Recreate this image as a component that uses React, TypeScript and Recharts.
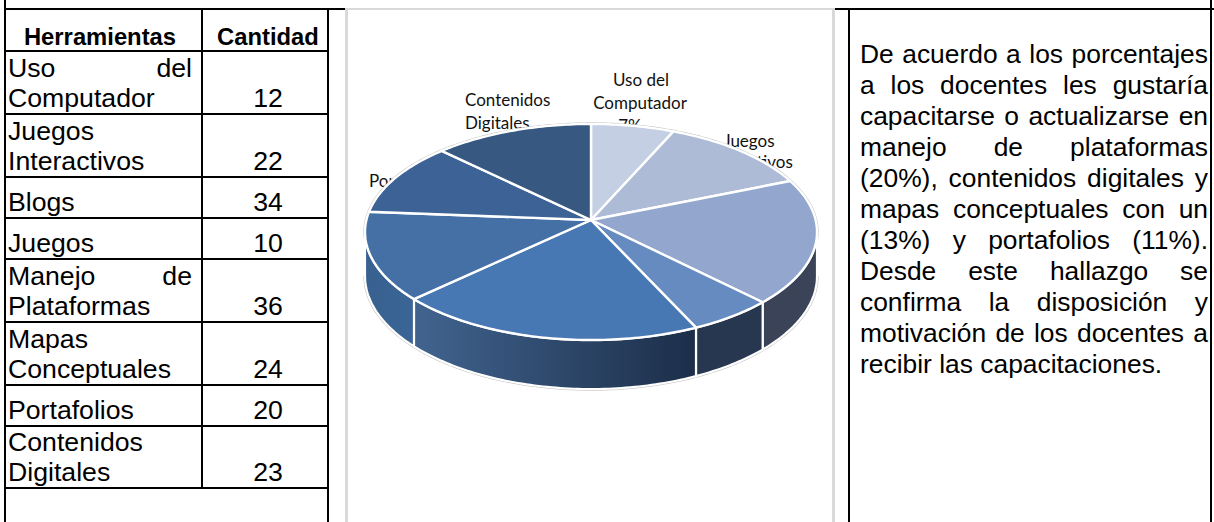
import React from "react";
import { PieChart, Pie } from "recharts";

const tools = [
  "Uso del Computador",
  "Juegos Interactivos",
  "Blogs",
  "Juegos",
  "Manejo de Plataformas",
  "Mapas Conceptuales",
  "Portafolios",
  "Contenidos Digitales",
];
const amounts = [12, 22, 34, 10, 36, 24, 20, 23];
const chartData = tools.map((name, i) => ({ name, value: amounts[i] }));

const topColors = ["#C5CFE3", "#ADBBD7", "#92A6CE", "#658BC0", "#4878B3", "#4470A6", "#3C6296", "#365881"];
// side wall colours run left to right across each visible slice
const wallColors = [
  ["#000", "#000"],
  ["#000", "#000"],
  ["#3B4358", "#3B4358"],
  ["#27374F", "#27374F"],
  ["#41648F", "#1C2E49"],
  ["#38618F", "#3A6596"],
  ["#000", "#000"],
  ["#000", "#000"],
];

const tableRowLines = [51, 114, 177, 218, 259, 322, 385, 426, 488];

const commentary =
  "De acuerdo a los porcentajes a los docentes les gustaría capacitarse o actualizarse en manejo de plataformas (20%), contenidos digitales y mapas conceptuales con un (13%) y portafolios (11%). Desde este hallazgo se confirma la disposición y motivación de los docentes a recibir las capacitaciones.";

// tilted disc: ellipse radii and perspective strength
const RX = 224.6;
const RY = 106.7;
const PERSPECTIVE = 0.111;
const DEPTH = 43.6;
const RIM_FROM = -6.4; // recharts degrees where the wall starts to show
const RIM_TO = -173.6;

const rad = (deg: number) => (deg * Math.PI) / 180;

function project(cx: number, cy: number, angle: number, depth = 0) {
  const u = Math.cos(rad(angle));
  const v = Math.sin(rad(angle));
  const w = 1 + PERSPECTIVE * v;
  return [cx + (RX * u) / w, cy - (RY * v) / w + depth / w];
}

function arcPoints(cx: number, cy: number, from: number, to: number, depth = 0) {
  const steps = Math.max(2, Math.ceil(Math.abs(to - from)));
  const pts: string[] = [];
  for (let i = 0; i <= steps; i++) {
    const [x, y] = project(cx, cy, from + ((to - from) * i) / steps, depth);
    pts.push(`${x.toFixed(2)} ${y.toFixed(2)}`);
  }
  return pts;
}

function TopSlice(props: any) {
  const { cx, cy, startAngle, endAngle, index } = props;
  const d = `M${cx} ${cy} L${arcPoints(cx, cy, startAngle, endAngle).join(" L")} Z`;
  return <path d={d} fill={topColors[index]} stroke="#fff" strokeWidth={2.4} strokeLinejoin="round" />;
}

function WallSlice(props: any) {
  const { cx, cy, startAngle, endAngle, index } = props;
  const from = Math.min(startAngle, RIM_FROM);
  const to = Math.max(endAngle, RIM_TO);
  if (from <= to) return null;
  const upper = arcPoints(cx, cy, from, to);
  const lower = arcPoints(cx, cy, to, from, DEPTH);
  const id = `wall-${index}`;
  return (
    <g>
      <defs>
        <linearGradient id={id}>
          <stop offset="0" stopColor={wallColors[index][0]} />
          <stop offset="1" stopColor={wallColors[index][1]} />
        </linearGradient>
      </defs>
      <path d={`M${upper.join(" L")} L${lower.join(" L")} Z`} fill={`url(#${id})`} stroke="#fff" strokeWidth={2.2} />
    </g>
  );
}

// thin grey edge around the disc
function HaloSlice(props: any) {
  const { cx, cy, startAngle, endAngle } = props;
  const from = Math.min(startAngle, RIM_FROM);
  const to = Math.max(endAngle, RIM_TO);
  return (
    <g fill="none" stroke="#BDBDBD" strokeWidth={3.2}>
      <path d={`M${arcPoints(cx, cy, startAngle, endAngle).join(" L")}`} />
      {from > to && <path d={`M${arcPoints(cx, cy, from, to, DEPTH).join(" L")}`} />}
    </g>
  );
}

const labelFont = { fontFamily: "Lato", fontSize: 17, fill: "#111" };

// only these labels stick out from behind the disc
function sliceLabel(props: any) {
  const { index, percent } = props;
  const pct = `${Math.round(percent * 100)}%`;
  if (index === 0) {
    return (
      <text {...labelFont} textAnchor="middle" key={index}>
        <tspan x={641} y={86}>Uso del</tspan>
        <tspan x={640} y={109}>Computador</tspan>
        <tspan x={630} y={132}>{pct}</tspan>
      </text>
    );
  }
  if (index === 1) {
    return (
      <text {...labelFont} textAnchor="middle" key={index}>
        <tspan x={749} y={147}>Juegos</tspan>
        <tspan x={749} y={168}>Interactivos</tspan>
      </text>
    );
  }
  if (index === 6) {
    return (
      <text {...labelFont} key={index}>
        <tspan x={369} y={187}>Portafolios</tspan>
      </text>
    );
  }
  if (index === 7) {
    return (
      <text {...labelFont} key={index}>
        <tspan x={465} y={106}>Contenidos</tspan>
        <tspan x={465} y={129}>Digitales</tspan>
      </text>
    );
  }
  return null;
}

const Line = ({ x, y, w, h, color = "#000" }: any) => (
  <div style={{ position: "absolute", left: x, top: y, width: w, height: h, background: color }} />
);

const cellFont = { fontFamily: "'Liberation Sans'", fontSize: 26.67, lineHeight: "30px", color: "#000" };
const pieGeometry = { cx: 591, cy: 220, outerRadius: 100, startAngle: 90, endAngle: -270 };
const chartMargin = { top: 0, right: 0, bottom: 0, left: 0 };

export default function App() {
  return (
    <div style={{ position: "fixed", inset: 0, width: 1214, height: 522, background: "#fff", overflow: "hidden" }}>
      {/* table rules */}
      <Line x={4} y={0} w={2} h={522} />
      <Line x={4} y={8} w={342} h={2} />
      <Line x={201} y={8} w={2} h={481} />
      <Line x={327} y={8} w={2} h={514} />
      {tableRowLines.map((y) => (
        <Line key={y} x={4} y={y - 1} w={325} h={2} />
      ))}
      <Line x={345} y={8} w={489} h={2} color="#D9D9D9" />
      <Line x={345} y={8} w={3} h={514} color="#D9D9D9" />
      <Line x={832} y={8} w={3} h={514} color="#D9D9D9" />
      <Line x={835} y={8} w={379} h={2} />
      <Line x={848} y={8} w={2} h={514} />
      <Line x={1210} y={0} w={2} h={522} />

      {/* table text */}
      <div style={{ ...cellFont, fontSize: 23.8, fontWeight: "bold", position: "absolute", left: 2, width: 196, top: 22, textAlign: "center" }}>
        Herramientas
      </div>
      <div style={{ ...cellFont, fontSize: 23.8, fontWeight: "bold", position: "absolute", left: 204, width: 128, top: 22, textAlign: "center" }}>
        Cantidad
      </div>
      {tools.map((name, i) => {
        const bottom = 522 - tableRowLines[i + 1] + 1;
        return (
          <React.Fragment key={name}>
            <div style={{ ...cellFont, position: "absolute", left: 8, width: 184, bottom, textAlign: "justify" }}>{name}</div>
            <div style={{ ...cellFont, position: "absolute", left: 204, width: 128, bottom, textAlign: "center" }}>{amounts[i]}</div>
          </React.Fragment>
        );
      })}

      {/* commentary column */}
      <div style={{ ...cellFont, fontSize: 26.4, lineHeight: "31px", position: "absolute", left: 860, width: 348, top: 39, textAlign: "justify" }}>
        {commentary}
      </div>

      {/* labels sit in their own chart so the disc can cover them */}
      <div style={{ position: "absolute", left: 0, top: 0 }}>
        <PieChart width={1214} height={522} margin={chartMargin}>
          <Pie data={chartData} dataKey="value" nameKey="name" {...pieGeometry} fill="none" stroke="none" label={sliceLabel} labelLine={false} isAnimationActive={false} />
        </PieChart>
      </div>
      <div style={{ position: "absolute", left: 0, top: 0 }}>
        <PieChart width={1214} height={522} margin={chartMargin}>
          <Pie data={chartData} dataKey="value" {...pieGeometry} shape={HaloSlice} label={false} isAnimationActive={false} />
          <Pie data={chartData} dataKey="value" {...pieGeometry} shape={WallSlice} label={false} isAnimationActive={false} />
          <Pie data={chartData} dataKey="value" {...pieGeometry} shape={TopSlice} label={false} isAnimationActive={false} />
        </PieChart>
      </div>
    </div>
  );
}
